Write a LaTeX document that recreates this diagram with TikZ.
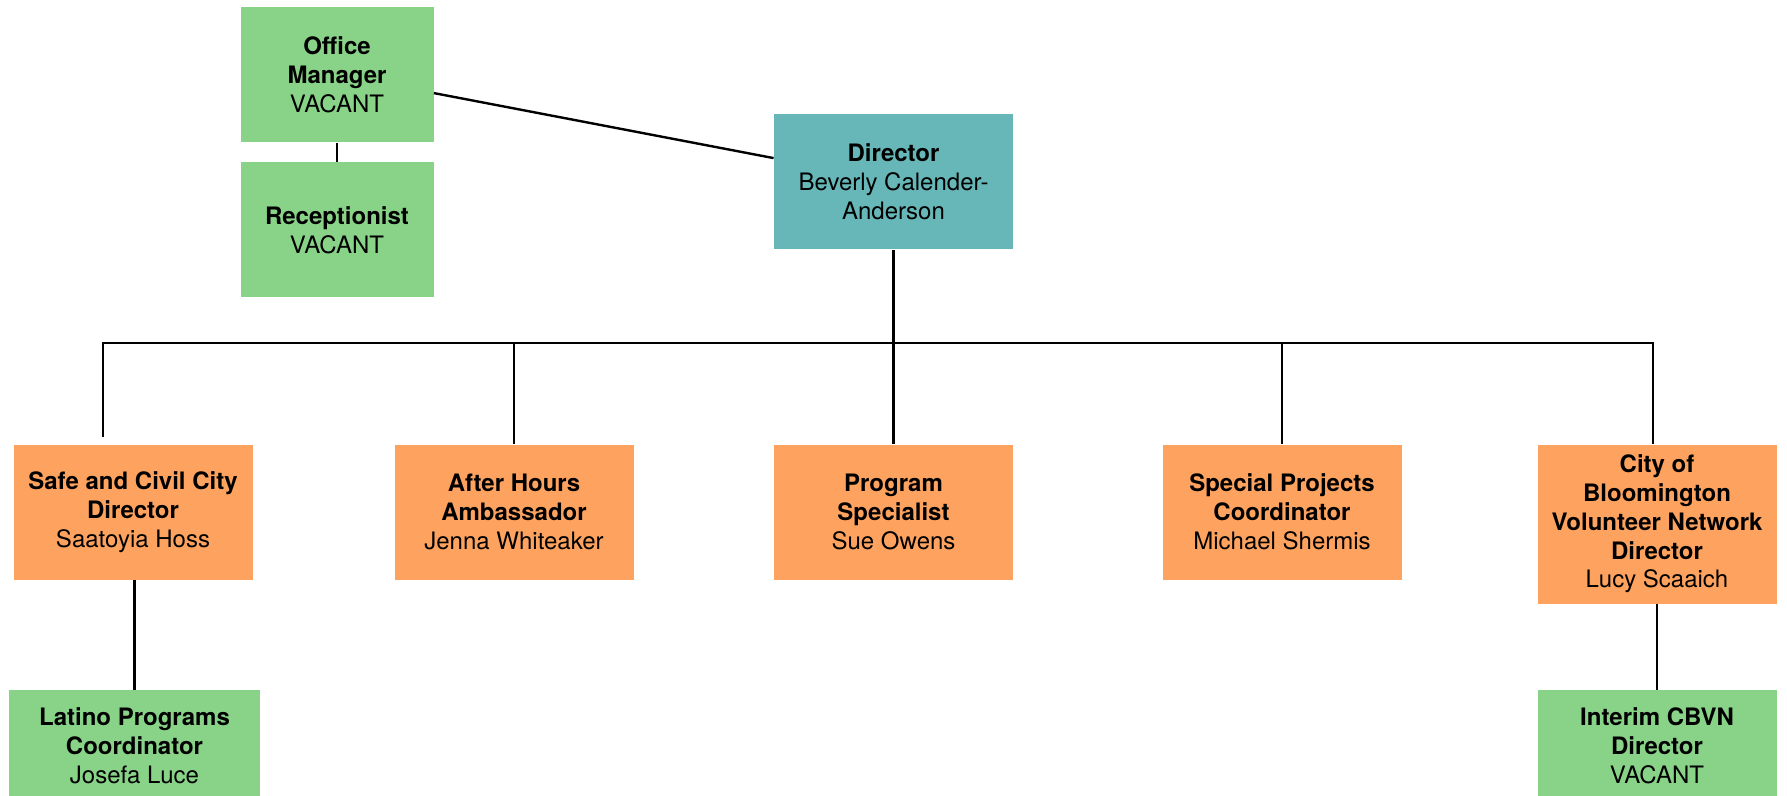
\documentclass[tikz,border=0pt]{standalone}
\usepackage{fontspec}
\setmainfont{TeX Gyre Heros}
\usetikzlibrary{calc}
\definecolor{vacgreen}{RGB}{137,211,137}
\definecolor{headteal}{RGB}{103,183,184}
\definecolor{staffor}{RGB}{254,163,95}
\begin{document}
\begin{tikzpicture}[x=0.5pt,y=-0.5pt,
  card/.style={rectangle,inner sep=0pt,align=center,
    font=\fontsize{12pt}{14.4pt}\selectfont,
    minimum width=119.5pt,minimum height=67.5pt},
  greencard/.style={card,fill=vacgreen},
  tealcard/.style={card,fill=headteal},
  orangecard/.style={card,fill=staffor},
  link/.style={draw=black,line width=1.2pt}]
\useasboundingbox (0,0) rectangle (1787,796);

% top group
\node[greencard,minimum width=96.5pt] (om) at (337,75) {\textbf{Office}\\\textbf{Manager}\\VACANT};
\node[greencard,minimum width=96.5pt] (rec) at (337,230) {\textbf{Receptionist}\\VACANT};
\node[tealcard] (dir) at (893.5,182) {\textbf{Director}\\Beverly Calender-\\Anderson};

% second row
\node[orangecard] (safe) at (133,512) {\textbf{Safe and Civil City}\\\textbf{Director}\\Saatoyia Hoss};
\node[orangecard] (ah) at (514,512) {\textbf{After Hours}\\\textbf{Ambassador}\\Jenna Whiteaker};
\node[orangecard] (prog) at (893.5,512) {\textbf{Program}\\\textbf{Specialist}\\Sue Owens};
\node[orangecard] (spec) at (1282,512) {\textbf{Special Projects}\\\textbf{Coordinator}\\Michael Shermis};
\node[orangecard,minimum height=79.5pt] (city) at (1657,524) {\textbf{City of}\\\textbf{Bloomington}\\\textbf{Volunteer Network}\\\textbf{Director}\\Lucy Scaaich};

% third row
\node[greencard,minimum width=125.5pt,minimum height=56pt] (latino) at (134.5,746) {\textbf{Latino Programs}\\\textbf{Coordinator}\\Josefa Luce};
\node[greencard,minimum height=56pt] (interim) at (1657,746) {\textbf{Interim CBVN}\\\textbf{Director}\\VACANT};

% connectors
\coordinate (bus) at (0,343);
\draw[link] (om.south) -- (rec.north);
\draw[link] ($(om.north east)+(0,86)$) -- ($(dir.north west)+(0,44)$);
\draw[link] (dir.south) -- (prog.north);
\draw[link] (dir.south |- bus) -| ($(safe.north west)+(90,-7)$);
\draw[link] (dir.south |- bus) -| (ah.north);
\draw[link] (dir.south |- bus) -| (spec.north);
\draw[link] (dir.south |- bus) -| ($(city.north)+(-4,0)$);
\draw[link] (latino.north |- safe.south) -- (latino.north);
\draw[link] (city.south) -- (interim.north);
\end{tikzpicture}
\end{document}
